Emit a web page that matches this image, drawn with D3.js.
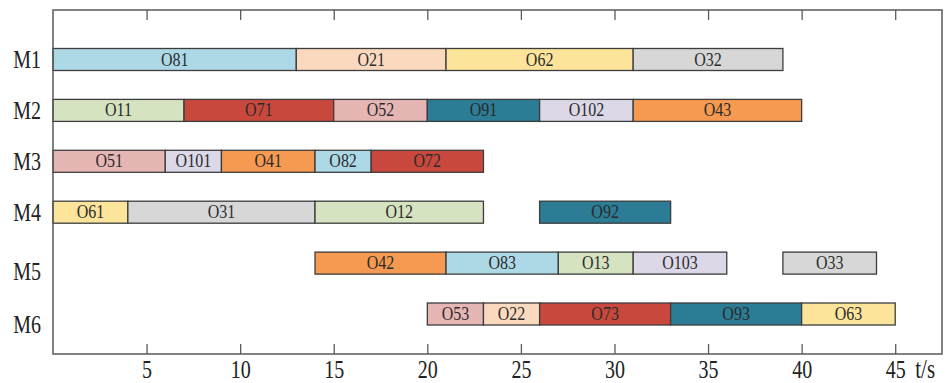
<!DOCTYPE html>
<html>
<head>
<meta charset="utf-8">
<script src="https://cdn.jsdelivr.net/npm/d3@7"></script>
<style>
  html, body { margin: 0; padding: 0; background: #fff; }
  svg { display: block; }
</style>
</head>
<body>
<svg id="chart" width="947" height="383"></svg>
<script>
// ---------------- data ----------------
const machines = ["M1", "M2", "M3", "M4", "M5", "M6"];
const xTicks = [5, 10, 15, 20, 25, 30, 35, 40, 45];
const xUnit = "t/s";

// operations: machine, label, job, start, end
const opMachine = ["M1","M1","M1","M1",
                   "M2","M2","M2","M2","M2","M2",
                   "M3","M3","M3","M3","M3",
                   "M4","M4","M4","M4",
                   "M5","M5","M5","M5","M5",
                   "M6","M6","M6","M6","M6"];
const opLabel = ["O81","O21","O62","O32",
                 "O11","O71","O52","O91","O102","O43",
                 "O51","O101","O41","O82","O72",
                 "O61","O31","O12","O92",
                 "O42","O83","O13","O103","O33",
                 "O53","O22","O73","O93","O63"];
const opJob = [8,2,6,3,
               1,7,5,9,10,4,
               5,10,4,8,7,
               6,3,1,9,
               4,8,1,10,3,
               5,2,7,9,6];
const opStart = [0,13,21,31,
                 0,7,15,20,26,31,
                 0,6,9,14,17,
                 0,4,14,26,
                 14,21,27,31,39,
                 20,23,26,33,40];
const opEnd = [13,21,31,39,
               7,15,20,26,31,40,
               6,9,14,17,23,
               4,14,23,33,
               21,27,31,36,44,
               23,26,33,40,45];

const jobs = [1,2,3,4,5,6,7,8,9,10];
const jobColors = ["#d6e3c0","#fbd9bf","#d7d7d7","#f59a50","#e6b6b5",
                   "#fde49b","#c8483d","#add9e6","#2b7c94","#dcd8e8"];

// ---------------- layout ----------------
const svg = d3.select("#chart");
const L = 53, R = 942, T = 10, B = 354;
const serif = "'Liberation Serif', 'DejaVu Serif', serif";

const x = d3.scaleLinear().domain([0, 47.5]).range([L, R]);
const y = d3.scalePoint().domain(machines).range([59.5, 314]);
const color = d3.scaleOrdinal().domain(jobs).range(jobColors);
const barH = 22;
const labelShift = [0, 0, 0, 0, 8, 10];

const ops = opLabel.map((l, i) => ({
  m: opMachine[i], label: l, job: opJob[i], s: opStart[i], e: opEnd[i]
}));

// bars
const g = svg.append("g");
g.selectAll("rect.op").data(ops).join("rect")
  .attr("class", "op")
  .attr("x", d => x(d.s))
  .attr("y", d => y(d.m) - barH / 2)
  .attr("width", d => x(d.e) - x(d.s))
  .attr("height", barH)
  .attr("fill", d => color(d.job))
  .attr("stroke", "#3d3d3d")
  .attr("stroke-width", 1.3);

g.selectAll("text.op").data(ops).join("text")
  .attr("class", "op")
  .attr("transform", d => `translate(${(x(d.s) + x(d.e)) / 2},${y(d.m) + 6}) scale(1,1.12)`)
  .attr("text-anchor", "middle")
  .attr("font-family", serif)
  .attr("font-size", 16)
  .attr("fill", "#2a2a2a")
  .text(d => d.label);

// frame
svg.append("rect")
  .attr("x", L).attr("y", T)
  .attr("width", R - L).attr("height", B - T)
  .attr("fill", "none")
  .attr("stroke", "#5a5a5a")
  .attr("stroke-width", 1.5);

// bottom axis (ticks pointing inward)
const axB = svg.append("g")
  .attr("transform", `translate(0,${B})`)
  .call(d3.axisBottom(x).tickValues(xTicks).tickSizeInner(-10).tickSizeOuter(0).tickFormat(d3.format("d")));
axB.select(".domain").remove();
axB.selectAll(".tick line").attr("stroke", "#5a5a5a").attr("stroke-width", 1.3);
axB.selectAll(".tick text")
  .attr("y", null).attr("dy", null)
  .attr("transform", "translate(0,24) scale(1,1.25)")
  .attr("font-family", serif)
  .attr("font-size", 20)
  .attr("fill", "#222");

// top axis ticks (inward, no labels)
const axT = svg.append("g")
  .attr("transform", `translate(0,${T})`)
  .call(d3.axisTop(x).tickValues(xTicks).tickSizeInner(-10).tickSizeOuter(0).tickFormat(""));
axT.select(".domain").remove();
axT.selectAll(".tick line").attr("stroke", "#5a5a5a").attr("stroke-width", 1.3);

// unit label
svg.append("text")
  .attr("transform", `translate(${x(45) + 20},378) scale(1,1.25)`)
  .attr("font-family", serif)
  .attr("font-size", 21)
  .attr("fill", "#222")
  .text(xUnit);

// machine labels
svg.selectAll("text.m").data(machines).join("text")
  .attr("class", "m")
  .attr("transform", (d, i) => `translate(41,${y(d) + labelShift[i] + 8.5}) scale(1,1.25)`)
  .attr("text-anchor", "end")
  .attr("font-family", serif)
  .attr("font-size", 20)
  .attr("fill", "#222")
  .text(d => d);
</script>
</body>
</html>
